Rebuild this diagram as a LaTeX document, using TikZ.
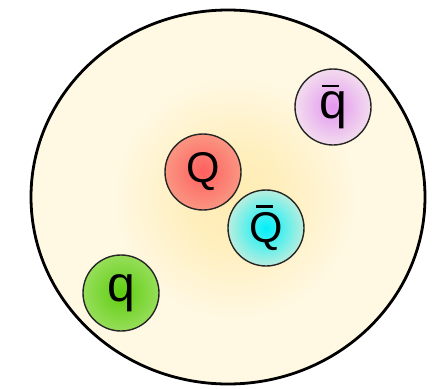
\documentclass[tikz,border=0pt]{standalone}
\usepackage{fontspec}
\setmainfont{Liberation Sans}
\definecolor{cream}{RGB}{255,248,226}
\definecolor{glow}{RGB}{255,236,178}
\definecolor{redC}{RGB}{255,95,95}
\definecolor{redE}{RGB}{250,150,130}
\definecolor{cyanC}{RGB}{0,240,250}
\definecolor{cyanE}{RGB}{185,238,222}
\definecolor{greenC}{RGB}{95,205,15}
\definecolor{greenE}{RGB}{150,222,90}
\definecolor{pinkC}{RGB}{228,150,240}
\definecolor{pinkE}{RGB}{242,220,238}
\pgfdeclareradialshading{glowsh}{\pgfpoint{0bp}{0bp}}{color(0bp)=(glow); color(10bp)=(glow!75!cream); color(25bp)=(cream); color(50bp)=(cream)}
\pgfdeclareradialshading{redsh}{\pgfpoint{0bp}{0bp}}{color(0bp)=(redC); color(25bp)=(redE); color(50bp)=(redE)}
\pgfdeclareradialshading{cyansh}{\pgfpoint{0bp}{0bp}}{color(0bp)=(cyanC); color(25bp)=(cyanE); color(50bp)=(cyanE)}
\pgfdeclareradialshading{greensh}{\pgfpoint{0bp}{0bp}}{color(0bp)=(greenC); color(25bp)=(greenE); color(50bp)=(greenE)}
\pgfdeclareradialshading{pinksh}{\pgfpoint{0bp}{0bp}}{color(0bp)=(pinkC); color(25bp)=(pinkE); color(50bp)=(pinkE)}
% #1 = left offset of bar as fraction of width, #2 = bar width fraction, #3 = text
\newcommand\withbar[3]{\setbox0\hbox{#3}\rlap{\hbox to \wd0{\hskip#1\wd0\raisebox{\dimexpr\ht0+5pt\relax}{\rule{#2\wd0}{2.4pt}}\hss}}\box0}
\begin{document}
\begin{tikzpicture}[x=1pt,y=-1pt,
  ball/.style={circle, minimum size=76pt, inner sep=0pt, draw=black!85, line width=1.4pt, text=black},
  bigQ/.style={font=\fontsize{43}{43}\selectfont},
  smallq/.style={font=\fontsize{50}{50}\selectfont}]
\useasboundingbox (0,0) rectangle (438,388);
\path[fill=cream] (228,197) ellipse [x radius=197, y radius=187];
\shade[shading=glowsh] (235,198) circle [radius=120];
\draw[line width=2.8pt, black] (228,197) ellipse [x radius=197, y radius=187];
\node[ball, bigQ, shading=redsh] (Q) at (203,172) {Q};
\node[ball, bigQ, shading=cyansh] (Qb) at (266,228) {\withbar{0.2}{0.5}{Q}};
\node[ball, smallq, shading=greensh] (q) at (121,293) {q};
\node[ball, smallq, shading=pinksh] (qb) at (333,107) {\withbar{0.1}{0.6}{q}};
\end{tikzpicture}
\end{document}
